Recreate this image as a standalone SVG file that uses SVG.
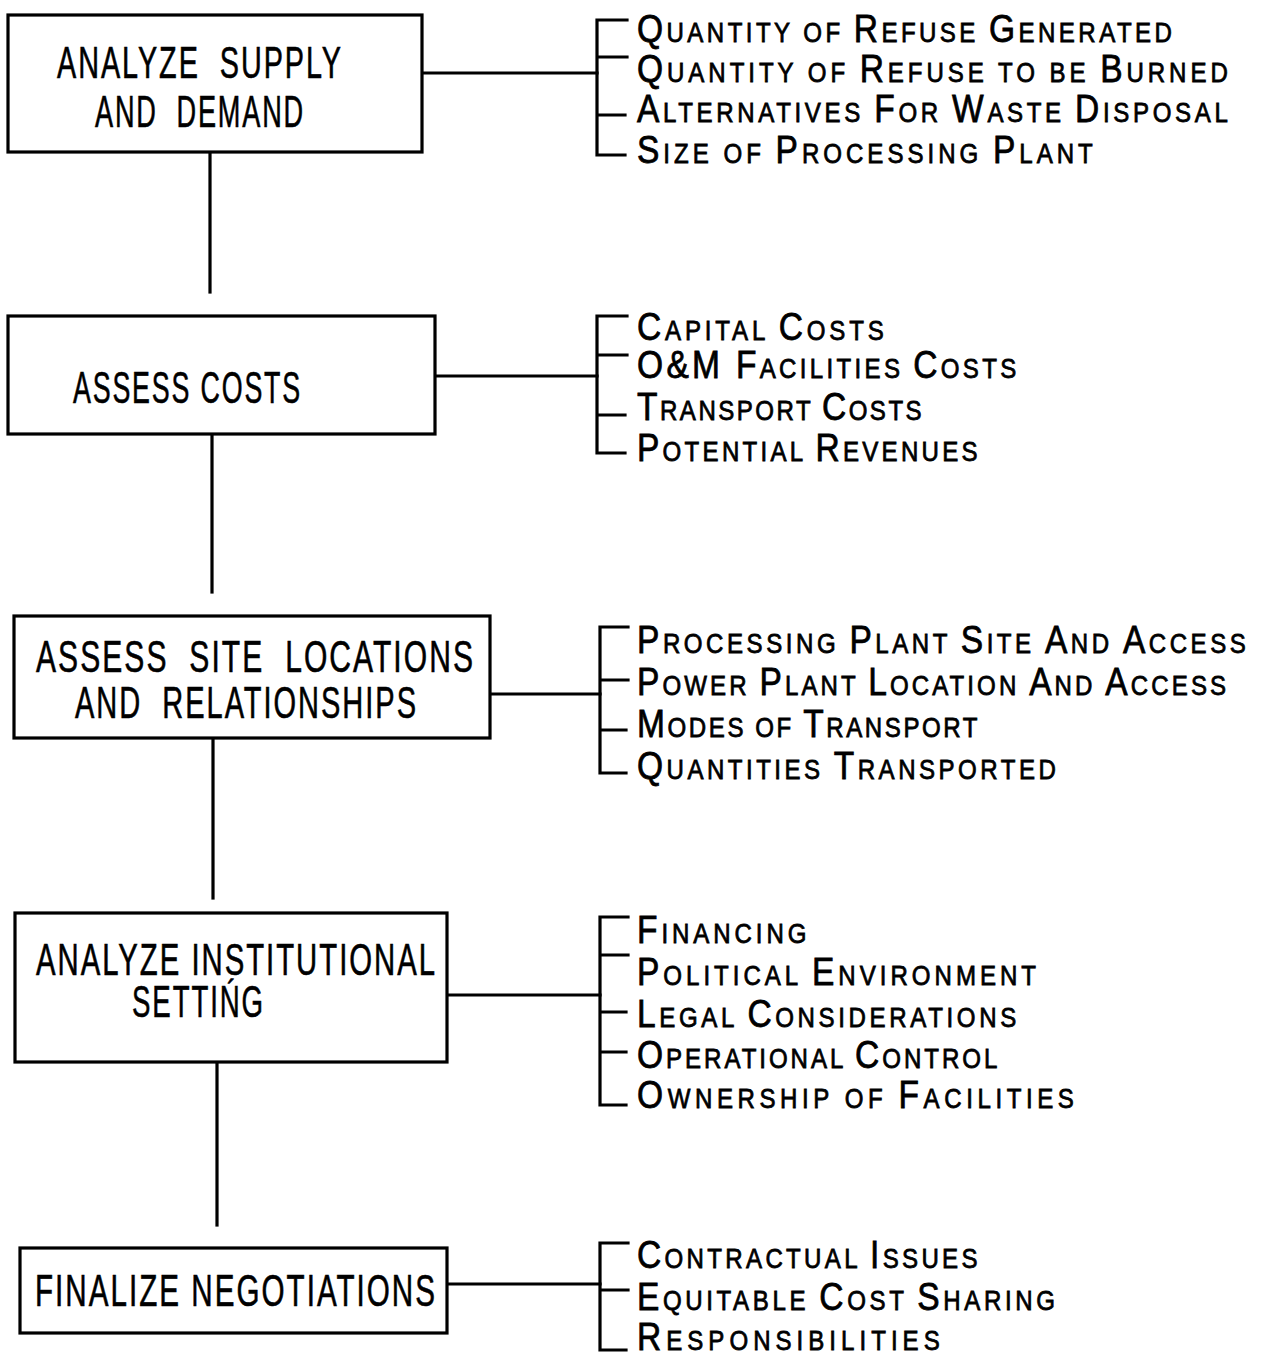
<svg xmlns="http://www.w3.org/2000/svg" width="1265" height="1357" viewBox="0 0 1265 1357">
  <style>
    .box { fill: #ffffff; stroke: #000000; stroke-width: 3.2; }
    .ln { fill: none; stroke: #000000; stroke-width: 3.2; stroke-linecap: square; }
    .bt { font-family: "Liberation Sans", Arial, sans-serif; font-size: 44px; letter-spacing: 3px; white-space: pre; fill: #000000; stroke: #000000; stroke-width: 0.6; }
    .it { font-family: "Liberation Sans", Arial, sans-serif; font-size: 39px; fill: #000000; stroke: #000000; stroke-width: 0.8; }
    .s { font-size: 28px; }
  </style>
  <rect width="1265" height="1357" fill="#ffffff"/>

  <!-- connectors: vertical flow, box-to-bracket links, brackets -->
  <g id="connectors">
    <path class="ln" d="M210,152 V292"/>
    <path class="ln" d="M212,434 V592"/>
    <path class="ln" d="M213,738 V898"/>
    <path class="ln" d="M217,1062 V1225"/>

    <path class="ln" d="M422,73 H597"/>
    <path class="ln" d="M435,376 H597"/>
    <path class="ln" d="M490,694 H600"/>
    <path class="ln" d="M447,995 H600"/>
    <path class="ln" d="M447,1284 H600"/>

    <path class="ln" d="M627,20 H597 V155 H625 M597,57 H627 M597,115 H625"/>
    <path class="ln" d="M627,316 H597 V453 H625 M597,355 H627 M597,415 H625"/>
    <path class="ln" d="M628,627 H600 V773 H626 M600,680 H628 M600,730 H626"/>
    <path class="ln" d="M628,917 H600 V1105 H626 M600,955 H628 M600,1012 H626 M600,1052 H626"/>
    <path class="ln" d="M628,1243 H600 V1350 H626 M600,1290 H628"/>
  </g>

  <g id="node-supply-demand">
    <rect class="box" x="8" y="15" width="414" height="137"/>
    <text class="bt" x="57" y="78" textLength="286" lengthAdjust="spacingAndGlyphs">ANALYZE  SUPPLY</text>
    <text class="bt" x="95" y="127" textLength="210" lengthAdjust="spacingAndGlyphs">AND  DEMAND</text>
  </g>
  <!-- item lists: narrowed glyphs, spacing stretched to the line width -->
  <g id="items-supply-demand">
    <text class="it" transform="translate(637,42) scale(0.86,1)" textLength="622" lengthAdjust="spacing">Q<tspan class="s">UANTITY OF </tspan>R<tspan class="s">EFUSE </tspan>G<tspan class="s">ENERATED</tspan></text>
    <text class="it" transform="translate(637,82) scale(0.86,1)" textLength="687" lengthAdjust="spacing">Q<tspan class="s">UANTITY OF </tspan>R<tspan class="s">EFUSE TO BE </tspan>B<tspan class="s">URNED</tspan></text>
    <text class="it" transform="translate(637,122) scale(0.86,1)" textLength="687" lengthAdjust="spacing">A<tspan class="s">LTERNATIVES </tspan>F<tspan class="s">OR </tspan>W<tspan class="s">ASTE </tspan>D<tspan class="s">ISPOSAL</tspan></text>
    <text class="it" transform="translate(637,163) scale(0.86,1)" textLength="530" lengthAdjust="spacing">S<tspan class="s">IZE OF </tspan>P<tspan class="s">ROCESSING </tspan>P<tspan class="s">LANT</tspan></text>
  </g>

  <g id="node-costs">
    <rect class="box" x="8" y="316" width="427" height="118"/>
    <text class="bt" x="73" y="403" textLength="229" lengthAdjust="spacingAndGlyphs">ASSESS COSTS</text>
  </g>
  <g id="items-costs">
    <text class="it" transform="translate(637,340) scale(0.86,1)" textLength="287" lengthAdjust="spacing">C<tspan class="s">APITAL </tspan>C<tspan class="s">OSTS</tspan></text>
    <text class="it" transform="translate(637,378) scale(0.86,1)" textLength="441" lengthAdjust="spacing">O&amp;M F<tspan class="s">ACILITIES </tspan>C<tspan class="s">OSTS</tspan></text>
    <text class="it" transform="translate(637,420) scale(0.86,1)" textLength="331" lengthAdjust="spacing">T<tspan class="s">RANSPORT </tspan>C<tspan class="s">OSTS</tspan></text>
    <text class="it" transform="translate(637,461) scale(0.86,1)" textLength="396" lengthAdjust="spacing">P<tspan class="s">OTENTIAL </tspan>R<tspan class="s">EVENUES</tspan></text>
  </g>

  <g id="node-site-locations">
    <rect class="box" x="14" y="616" width="476" height="122"/>
    <text class="bt" x="36" y="672" textLength="439" lengthAdjust="spacingAndGlyphs">ASSESS  SITE  LOCATIONS</text>
    <text class="bt" x="75" y="718" textLength="343" lengthAdjust="spacingAndGlyphs">AND  RELATIONSHIPS</text>
  </g>
  <g id="items-site-locations">
    <text class="it" transform="translate(637,653) scale(0.86,1)" textLength="708" lengthAdjust="spacing">P<tspan class="s">ROCESSING </tspan>P<tspan class="s">LANT </tspan>S<tspan class="s">ITE </tspan>A<tspan class="s">ND </tspan>A<tspan class="s">CCESS</tspan></text>
    <text class="it" transform="translate(637,695) scale(0.86,1)" textLength="685" lengthAdjust="spacing">P<tspan class="s">OWER </tspan>P<tspan class="s">LANT </tspan>L<tspan class="s">OCATION </tspan>A<tspan class="s">ND </tspan>A<tspan class="s">CCESS</tspan></text>
    <text class="it" transform="translate(637,737) scale(0.86,1)" textLength="396" lengthAdjust="spacing">M<tspan class="s">ODES OF </tspan>T<tspan class="s">RANSPORT</tspan></text>
    <text class="it" transform="translate(637,779) scale(0.86,1)" textLength="487" lengthAdjust="spacing">Q<tspan class="s">UANTITIES </tspan>T<tspan class="s">RANSPORTED</tspan></text>
  </g>

  <g id="node-institutional">
    <rect class="box" x="15" y="913" width="432" height="149"/>
    <text class="bt" x="36" y="975" textLength="401" lengthAdjust="spacingAndGlyphs">ANALYZE INSTITUTIONAL</text>
    <text class="bt" x="132" y="1017" textLength="133" lengthAdjust="spacingAndGlyphs">SETTIŃG</text>
  </g>
  <g id="items-institutional">
    <text class="it" transform="translate(637,943) scale(0.86,1)" textLength="197" lengthAdjust="spacing">F<tspan class="s">INANCING</tspan></text>
    <text class="it" transform="translate(637,985) scale(0.86,1)" textLength="464" lengthAdjust="spacing">P<tspan class="s">OLITICAL </tspan>E<tspan class="s">NVIRONMENT</tspan></text>
    <text class="it" transform="translate(637,1027) scale(0.86,1)" textLength="441" lengthAdjust="spacing">L<tspan class="s">EGAL </tspan>C<tspan class="s">ONSIDERATIONS</tspan></text>
    <text class="it" transform="translate(637,1068) scale(0.86,1)" textLength="419" lengthAdjust="spacing">O<tspan class="s">PERATIONAL </tspan>C<tspan class="s">ONTROL</tspan></text>
    <text class="it" transform="translate(637,1108) scale(0.86,1)" textLength="508" lengthAdjust="spacing">O<tspan class="s">WNERSHIP OF </tspan>F<tspan class="s">ACILITIES</tspan></text>
  </g>

  <g id="node-negotiations">
    <rect class="box" x="20" y="1248" width="427" height="85"/>
    <text class="bt" x="35" y="1306" textLength="402" lengthAdjust="spacingAndGlyphs">FINALIZE NEGOTIATIONS</text>
  </g>
  <g id="items-negotiations">
    <text class="it" transform="translate(637,1268) scale(0.86,1)" textLength="396" lengthAdjust="spacing">C<tspan class="s">ONTRACTUAL </tspan>I<tspan class="s">SSUES</tspan></text>
    <text class="it" transform="translate(637,1310) scale(0.86,1)" textLength="486" lengthAdjust="spacing">E<tspan class="s">QUITABLE </tspan>C<tspan class="s">OST </tspan>S<tspan class="s">HARING</tspan></text>
    <text class="it" transform="translate(637,1350) scale(0.86,1)" textLength="352" lengthAdjust="spacing">R<tspan class="s">ESPONSIBILITIES</tspan></text>
  </g>
</svg>
